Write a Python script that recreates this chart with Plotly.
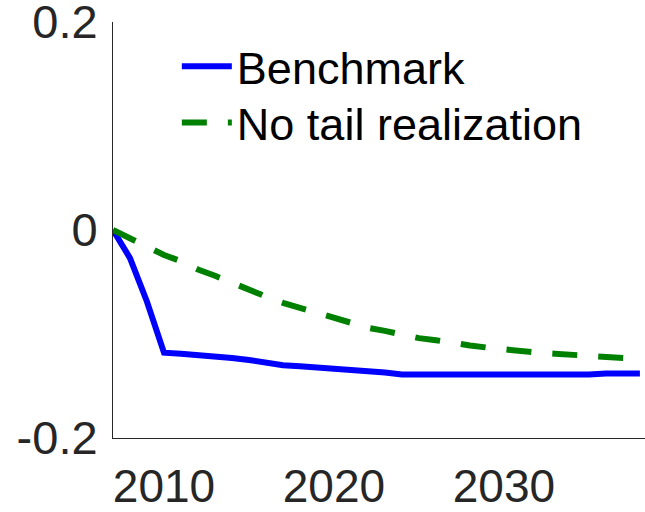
import plotly.graph_objects as go

years = list(range(2007, 2039))
benchmark = [0.0, -0.027, -0.069, -0.118, -0.119, -0.120, -0.121, -0.123, -0.125, -0.128,
             -0.130, -0.131, -0.132, -0.134, -0.135, -0.136, -0.137, -0.139, -0.139, -0.140,
             -0.140, -0.139, -0.139, -0.139, -0.140, -0.140, -0.140, -0.140, -0.139, -0.138,
             -0.138, -0.138]
no_tail = [0.0, -0.008, -0.016, -0.024, -0.030, -0.038, -0.044, -0.051, -0.058, -0.064,
           -0.070, -0.075, -0.080, -0.085, -0.090, -0.094, -0.097, -0.101, -0.104, -0.106,
           -0.109, -0.111, -0.113, -0.115, -0.117, -0.118, -0.119, -0.120, -0.121, -0.122,
           -0.123, -0.124]
x_ticks = [2010, 2020, 2030]
y_ticks = [-0.2, 0, 0.2]
y_tick_labels = ["-0.2", "0", "0.2"]

fig = go.Figure()
fig.add_trace(go.Scatter(x=years, y=benchmark, mode="lines", name="Benchmark",
                         line=dict(color="#0000ff", width=6), legend="legend"))
fig.add_trace(go.Scatter(x=years, y=no_tail, mode="lines", name="No tail realization",
                         line=dict(color="#008000", width=6, dash="25px,21px"),
                         legend="legend2"))

font_family = "Liberation Sans, Arial, Helvetica, sans-serif"
legend_common = dict(xanchor="left", yanchor="middle", bgcolor="rgba(0,0,0,0)",
                     font=dict(size=45, color="black"), itemwidth=50)
fig.update_layout(
    width=645, height=512,
    margin=dict(l=113, r=0, t=22, b=74, autoexpand=False),
    paper_bgcolor="white", plot_bgcolor="white",
    font=dict(family=font_family, color="#262626"),
    showlegend=True,
    legend=dict(x=0.12, y=0.893, **legend_common),
    legend2=dict(x=0.12, y=0.758, **legend_common),
    xaxis=dict(range=[2007, 2038.3], tickvals=x_ticks, showgrid=False, zeroline=False,
               showline=True, linecolor="#262626", linewidth=1, ticks="",
               automargin=False, ticklabeloverflow="allow",
               tickfont=dict(size=46, color="#262626"), ticklabelstandoff=8),
    yaxis=dict(range=[-0.2, 0.2], tickvals=y_ticks, ticktext=y_tick_labels,
               showgrid=False, zeroline=False, showline=True, linecolor="#262626",
               linewidth=1, ticks="", automargin=False, ticklabeloverflow="allow",
               tickfont=dict(size=47, color="#262626"), ticklabelstandoff=5),
)

fig.write_html(
    "out.html",
    config={"responsive": False, "displayModeBar": False},
    post_script="document.body.style.margin='0';document.body.style.overflow='hidden';",
)
